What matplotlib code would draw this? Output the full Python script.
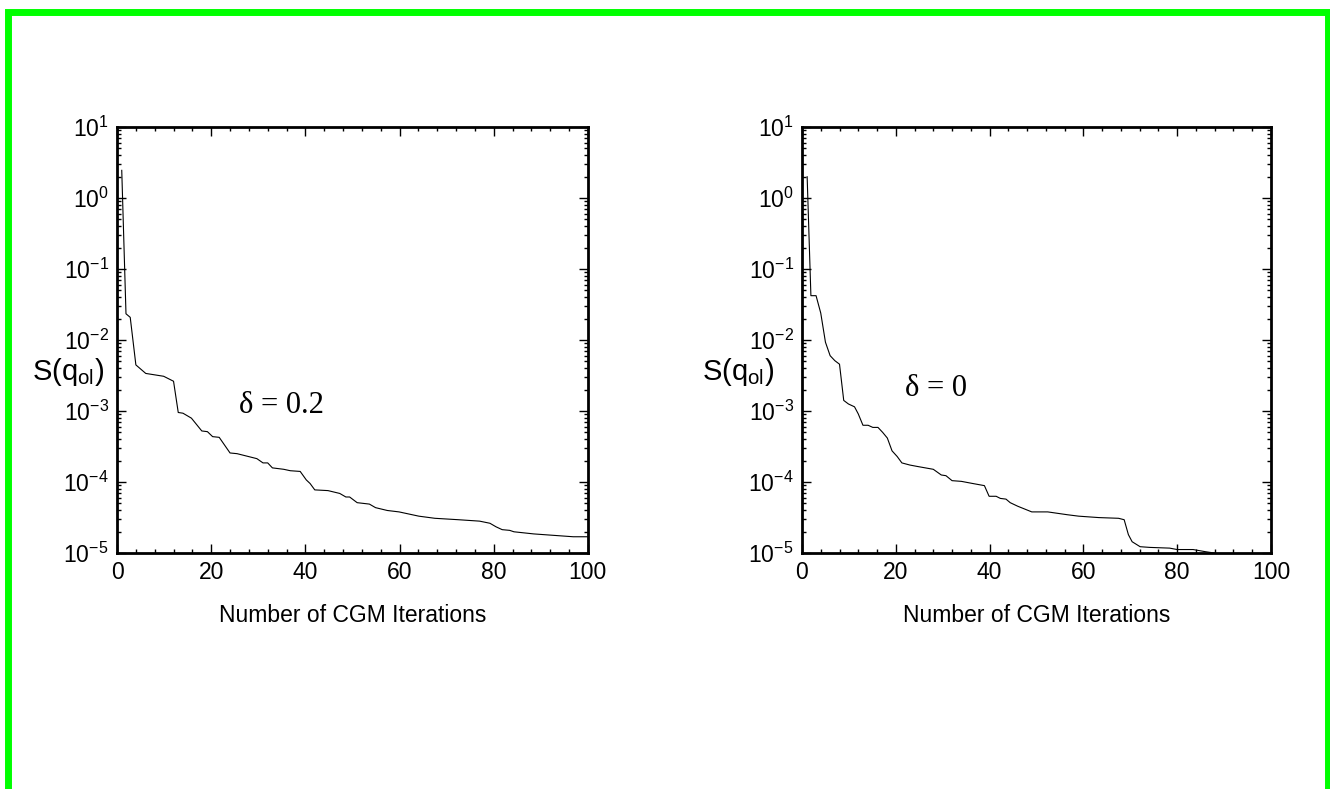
import matplotlib
matplotlib.use("Agg")
import matplotlib.pyplot as plt
from matplotlib.patches import Rectangle
from matplotlib.ticker import LogLocator, MultipleLocator, NullFormatter

plt.rcParams['font.family'] = ['Liberation Sans', 'DejaVu Sans']
plt.rcParams['mathtext.fontset'] = 'custom'
plt.rcParams['mathtext.rm'] = 'Liberation Sans'
plt.rcParams['mathtext.it'] = 'Liberation Sans:italic'

# delta = 0.2 run: iteration, log10(S)
iter_a = [1, 1.9, 2.8, 4, 6.1, 9.9, 12, 13, 14, 15.8, 18, 19.2, 20.3, 21.7, 24, 25.5,
          29.7, 31, 32, 33, 35.4, 36.8, 38.9, 40.2, 41, 42, 44.8, 47.3, 48.6, 49.4,
          51, 53.6, 54.9, 57.4, 59.9, 64.1, 67.5, 72.5, 77, 79.2, 80.5, 81.8, 83.4,
          84.3, 88.5, 92.7, 96.9, 100]
logs_a = [0.39, -1.63, -1.68, -2.35, -2.47, -2.51, -2.58, -3.02, -3.03, -3.10, -3.28,
          -3.29, -3.36, -3.37, -3.59, -3.60, -3.67, -3.73, -3.73, -3.80, -3.82, -3.84,
          -3.85, -3.97, -4.02, -4.11, -4.12, -4.16, -4.21, -4.21, -4.29, -4.31, -4.36,
          -4.40, -4.42, -4.48, -4.51, -4.53, -4.55, -4.58, -4.63, -4.67, -4.68, -4.70,
          -4.73, -4.75, -4.77, -4.77]

# delta = 0 run
iter_b = [1.1, 1.9, 3, 4, 5, 6, 7, 8, 8.9, 9.9, 11.2, 12, 13, 14.1, 15.1, 16.2, 17.2,
          18.2, 19.2, 20.3, 21.3, 23, 24.6, 28, 29.7, 30.7, 32, 34, 36.4, 38.9, 39.9,
          41.4, 42.3, 43.5, 44.4, 46, 49, 52.4, 56.6, 59, 63.3, 67.5, 68.7, 69.6, 70.4,
          72.1, 74.2, 78.4, 80, 83.4, 86, 88]
logs_b = [0.30, -1.375, -1.375, -1.62, -2.03, -2.22, -2.29, -2.34, -2.85, -2.90, -2.94,
          -3.04, -3.20, -3.20, -3.23, -3.23, -3.30, -3.38, -3.56, -3.64, -3.73, -3.76,
          -3.78, -3.82, -3.90, -3.91, -3.98, -3.99, -4.02, -4.05, -4.20, -4.20, -4.23,
          -4.24, -4.29, -4.34, -4.42, -4.42, -4.46, -4.48, -4.50, -4.51, -4.53, -4.74,
          -4.84, -4.91, -4.92, -4.93, -4.95, -4.95, -4.98, -5.00]

panels = [
    (iter_a, logs_a, "\u03b4 = 0.2", [0.088, 0.299, 0.354, 0.540], (0.26, 0.347), 0.024),
    (iter_b, logs_b, "\u03b4 = 0", [0.603, 0.299, 0.3526, 0.540], (0.22, 0.387), 0.528),
]

fig = plt.figure(figsize=(13.3, 7.89), dpi=100)

for xs, ls, note, rect, note_pos, ylab_x in panels:
    ax = fig.add_axes(rect)
    ax.plot(xs, [10 ** v for v in ls], color='black', lw=0.8)
    ax.set_yscale('log')
    ax.set_ylim(1e-5, 1e1)
    ax.set_xlim(0, 100)
    ax.xaxis.set_major_locator(MultipleLocator(20))
    ax.xaxis.set_minor_locator(MultipleLocator(4))
    ax.yaxis.set_major_locator(LogLocator(base=10, numticks=10))
    ax.yaxis.set_minor_locator(LogLocator(base=10, subs=range(2, 10), numticks=20))
    ax.yaxis.set_minor_formatter(NullFormatter())
    ax.tick_params(which='both', direction='in', top=True, right=True, width=1,
                   labelsize=16.5, pad=6)
    ax.tick_params(which='major', length=6.5)
    ax.tick_params(which='minor', length=3.2)
    for sp in ax.spines.values():
        sp.set_linewidth(2)
    ax.set_xlabel("Number of CGM Iterations", fontsize=16.5, labelpad=14)
    ax.text(note_pos[0], note_pos[1], note, transform=ax.transAxes, fontsize=22,
            family=['Liberation Serif', 'DejaVu Serif'], ha='left', va='center')
    fig.text(ylab_x, 0.528, "S(q$_{\\mathregular{ol}}$)", fontsize=21,
             ha='left', va='center')

# green frame round the whole picture
fig.patches.append(Rectangle((8 / 1330, -1.5 / 789), 1319.5 / 1330, 779 / 789,
                             transform=fig.transFigure, fill=False,
                             edgecolor='#00ff00', lw=5, clip_on=False))

fig.savefig("out.png", dpi=100)
